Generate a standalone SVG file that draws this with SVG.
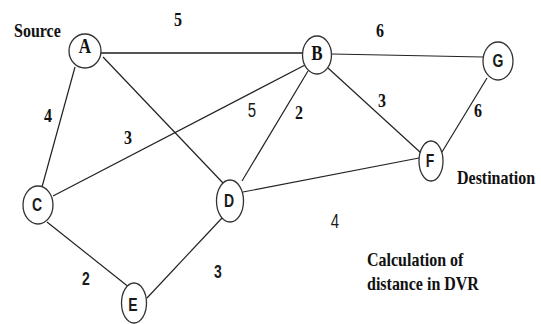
<svg xmlns="http://www.w3.org/2000/svg" width="541" height="324" viewBox="0 0 541 324">
<style>
.bg{fill:#fff}
.e{stroke:#222;stroke-width:1.2;fill:none}
.ab{stroke:#555;stroke-width:2.2;fill:none}
.n{fill:#fff;stroke:#333;stroke-width:1.3}
.ts{font-family:"Liberation Serif","Times New Roman",serif;font-weight:bold;font-size:16px;fill:#111}
.tn{font-family:"Liberation Sans",Arial,sans-serif;font-weight:bold;font-size:14px;fill:#1a1a1a}
.m{text-anchor:middle}
</style>
<rect class="bg" x="0" y="0" width="541" height="324"/>
<g id="connectors">
<line class="ab" x1="101" y1="53" x2="302" y2="53"/>
<line class="e" x1="332" y1="54" x2="483" y2="57"/>
<line class="e" x1="75" y1="67" x2="42" y2="187"/>
<line class="e" x1="103" y1="57" x2="223" y2="183"/>
<line class="e" x1="53" y1="196" x2="307" y2="64"/>
<line class="e" x1="242" y1="181" x2="308" y2="71"/>
<line class="e" x1="328" y1="68" x2="421" y2="153"/>
<line class="e" x1="487" y1="78" x2="442" y2="152"/>
<line class="e" x1="243" y1="192" x2="419" y2="158"/>
<line class="e" x1="47" y1="222" x2="130" y2="288"/>
<line class="e" x1="222" y1="218" x2="147" y2="298"/>
</g>
<g id="node-A"><ellipse class="n" cx="85" cy="51" rx="16" ry="17"/><text class="ts m" transform="translate(85,53) scale(1,1.25)" style="font-size:17px">A</text></g>
<g id="node-B"><ellipse class="n" cx="317" cy="55" rx="14.5" ry="19"/><text class="ts m" transform="translate(317,60) scale(1,1.25)" style="font-size:17px">B</text></g>
<g id="node-G"><ellipse class="n" cx="498" cy="61" rx="15" ry="19"/><text class="tn m" transform="translate(498,67) scale(1,1.35)">G</text></g>
<g id="node-C"><ellipse class="n" cx="38" cy="205" rx="15" ry="19"/><text class="tn m" transform="translate(37,211) scale(1,1.35)">C</text></g>
<g id="node-D"><ellipse class="n" cx="230" cy="201" rx="13.5" ry="21"/><text class="tn m" transform="translate(229,207) scale(1,1.35)">D</text></g>
<g id="node-F"><ellipse class="n" cx="431" cy="161" rx="12" ry="20"/><text class="tn m" transform="translate(430,167) scale(1,1.35)">F</text></g>
<g id="node-E"><ellipse class="n" cx="134" cy="303" rx="12.5" ry="20"/><text class="tn m" transform="translate(133,311) scale(1,1.35)">E</text></g>
<g id="labels">
<text class="ts" transform="translate(14,37) scale(1,1.2)">Source</text>
<text class="ts" transform="translate(457,184) scale(1,1.2)">Destination</text>
<text class="ts" transform="translate(367,266) scale(1,1.2)">Calculation of</text>
<text class="ts" transform="translate(367,290) scale(1,1.2)">distance in DVR</text>
<text class="ts m" transform="translate(178,26) scale(1,1.2)">5</text>
<text class="ts m" transform="translate(380,37) scale(1,1.2)">6</text>
<text class="ts m" transform="translate(48,122) scale(1,1.2)">4</text>
<text class="ts m" transform="translate(128,144) scale(1,1.2)">3</text>
<text class="tn m" transform="translate(252,117) scale(1,1.3)" style="font-weight:normal;font-size:15px">5</text>
<text class="ts m" transform="translate(299,119) scale(1,1.2)">2</text>
<text class="ts m" transform="translate(382,107) scale(1,1.2)">3</text>
<text class="ts m" transform="translate(478,117) scale(1,1.2)">6</text>
<text class="tn m" transform="translate(335,228) scale(1,1.3)" style="font-weight:normal;font-size:15px">4</text>
<text class="tn m" transform="translate(86,285) scale(1,1.3)">2</text>
<text class="tn m" transform="translate(218,278) scale(1,1.3)">3</text>
</g>
</svg>
